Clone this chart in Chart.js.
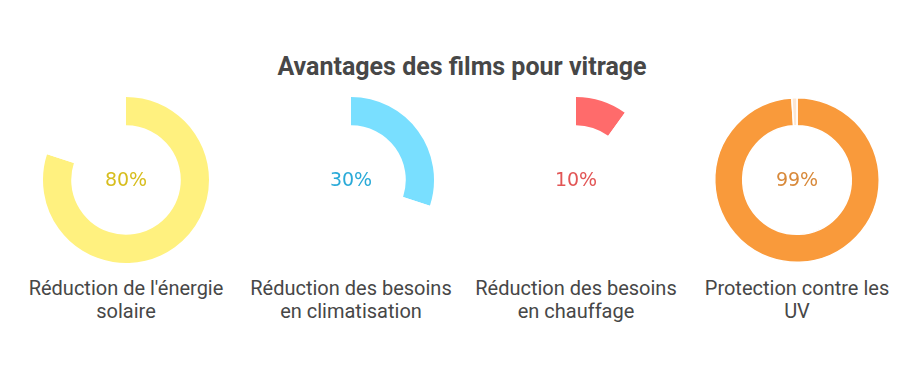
<!DOCTYPE html>
<html>
<head>
<meta charset="utf-8">
<script src="https://cdn.jsdelivr.net/npm/chart.js@4.4.1/dist/chart.umd.min.js"></script>
<style>
  html, body { margin: 0; padding: 0; background: #fff; }
  body { width: 924px; height: 372px; position: relative; overflow: hidden; font-family: Roboto, "Liberation Sans", sans-serif; }
  #title { position: absolute; left: 0; width: 924px; top: 52px; text-align: center; font-size: 25px; font-weight: bold; color: #474747; }
  .ring { position: absolute; width: 170px; height: 170px; }
  .label { position: absolute; width: 240px; text-align: center; font-size: 20px; line-height: 23px; color: #474747; top: 277px; }
</style>
</head>
<body>
<div id="title">Avantages des films pour vitrage</div>
<script>
const labels = [["Réduction de l'énergie", "solaire"], ["Réduction des besoins", "en climatisation"], ["Réduction des besoins", "en chauffage"], ["Protection contre les", "UV"]]
const values = [80, 30, 10, 99]
const fillColors = ['#fff17f', '#79dfff', '#ff6b6b', '#f99a3b']
const restColors = ['#ffffff', '#ffffff', '#ffffff', '#fde6d2']
const textColors = ['#d7bd1d', '#2aaad8', '#e25555', '#d8893a']
const centersX = [126, 351, 576, 797]
const centerY = 180

function centerText(txt, color) {
  return {
    id: 'centerText',
    afterDraw(chart) {
      let ctx = chart.ctx
      let meta = chart.getDatasetMeta(0).data[0]
      ctx.save()
      ctx.font = '19px "DejaVu Sans", sans-serif'
      ctx.fillStyle = color
      ctx.textAlign = 'center'
      ctx.textBaseline = 'middle'
      ctx.fillText(txt, meta.x, meta.y + 1)
      ctx.restore()
    }
  }
}

for (let i = 0; i < values.length; ++i) {
  let c = document.createElement('canvas')
  let wrap = document.createElement('div')
  wrap.className = 'ring'
  wrap.style.left = (centersX[i] - 85) + 'px'
  wrap.style.top = (centerY - 85) + 'px'
  wrap.appendChild(c)
  document.body.appendChild(wrap)

  let lab = document.createElement('div')
  lab.className = 'label'
  lab.style.left = (centersX[i] - 120) + 'px'
  lab.innerHTML = labels[i][0] + '<br>' + labels[i][1]
  document.body.appendChild(lab)

  new Chart(c, {
    type: 'doughnut',
    data: {
      labels: ['valeur', 'reste'],
      datasets: [{
        data: [values[i], 100 - values[i]],
        backgroundColor: [fillColors[i], restColors[i]],
        borderColor: '#ffffff',
        borderWidth: i === 3 ? 1.5 : 0
      }]
    },
    options: {
      responsive: true,
      maintainAspectRatio: false,
      animation: false,
      cutout: '66%',
      layout: { padding: 2 },
      plugins: { legend: { display: false }, tooltip: { enabled: false } }
    },
    plugins: [centerText(values[i] + '%', textColors[i])]
  })
}
</script>
</body>
</html>
